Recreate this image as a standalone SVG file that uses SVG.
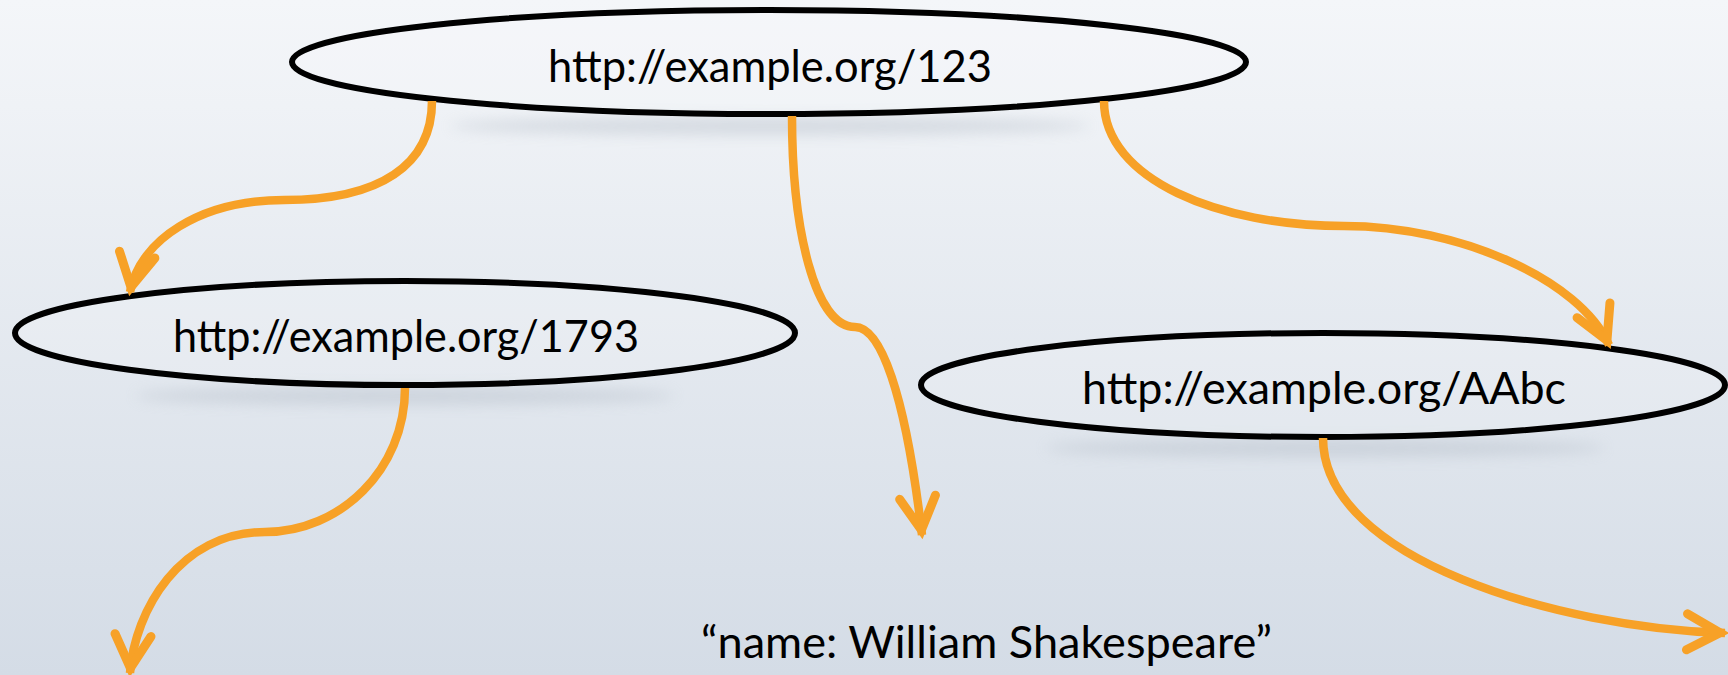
<svg xmlns="http://www.w3.org/2000/svg" width="1728" height="675" viewBox="0 0 1728 675">
<defs>
<linearGradient id="bg" x1="0" y1="0" x2="0" y2="1">
<stop offset="0" stop-color="#f4f6f9"/>
<stop offset="1" stop-color="#d4dce6"/>
</linearGradient>
<filter id="blur" x="-20%" y="-200%" width="140%" height="500%">
<feGaussianBlur stdDeviation="7"/>
</filter>
<marker id="arr" markerUnits="userSpaceOnUse" markerWidth="60" markerHeight="60" refX="0" refY="0" orient="auto" overflow="visible">
<path d="M-38,-18 L-5,0 L-38,18" fill="none" stroke="#f7a127" stroke-width="9" stroke-linecap="round" stroke-linejoin="miter"/>
</marker>
<style>
.node{fill:#ffffff;fill-opacity:0.15;stroke:#000;stroke-width:6}
.shadow{fill:#aeb7c2;opacity:0.4;filter:url(#blur)}
.lbl{font-family:Lato,"Open Sans","Liberation Sans",sans-serif;font-size:44px;fill:#000}
.edge{fill:none;stroke:#f7a127;stroke-width:8.5;marker-end:url(#arr)}
</style>
</defs>
<rect width="1728" height="675" fill="url(#bg)"/>
<g id="node-123">
<ellipse class="shadow" cx="770" cy="126" rx="320" ry="9"/>
<ellipse class="node" cx="769" cy="62" rx="477" ry="52"/>
<text class="lbl" x="770" y="82" text-anchor="middle" textLength="444" lengthAdjust="spacingAndGlyphs">http://example.org/123</text>
</g>
<g id="node-1793">
<ellipse class="shadow" cx="405" cy="396" rx="270" ry="9"/>
<ellipse class="node" cx="405" cy="333" rx="390" ry="52"/>
<text class="lbl" x="406" y="352" text-anchor="middle" textLength="466" lengthAdjust="spacingAndGlyphs">http://example.org/1793</text>
</g>
<g id="node-AAbc">
<ellipse class="shadow" cx="1325" cy="448" rx="280" ry="9"/>
<ellipse class="node" cx="1323" cy="385" rx="402" ry="52"/>
<text class="lbl" x="1324" y="404" text-anchor="middle" textLength="484" lengthAdjust="spacingAndGlyphs">http://example.org/AAbc</text>
</g>
<g id="node-name">
<text class="lbl" x="701" y="658" textLength="571" lengthAdjust="spacingAndGlyphs">“name: William Shakespeare”</text>
</g>
<g id="connectors">
<path class="edge" d="M432,101 C432,165 380,200 284,200 C200,200 140,240 130,292"/>
<path class="edge" d="M792,116 C792,230 815,327 855,327 C880,327 905,390 922,535"/>
<path class="edge" d="M1104,101 C1104,180 1220,226 1344,226 C1460,226 1580,280 1609,345"/>
<path class="edge" d="M405,388 C405,470 340,532 265,532 C180,532 135,610 130,673"/>
<path class="edge" d="M1323,438 C1323,560 1560,628 1725,633"/>
</g>
</svg>
